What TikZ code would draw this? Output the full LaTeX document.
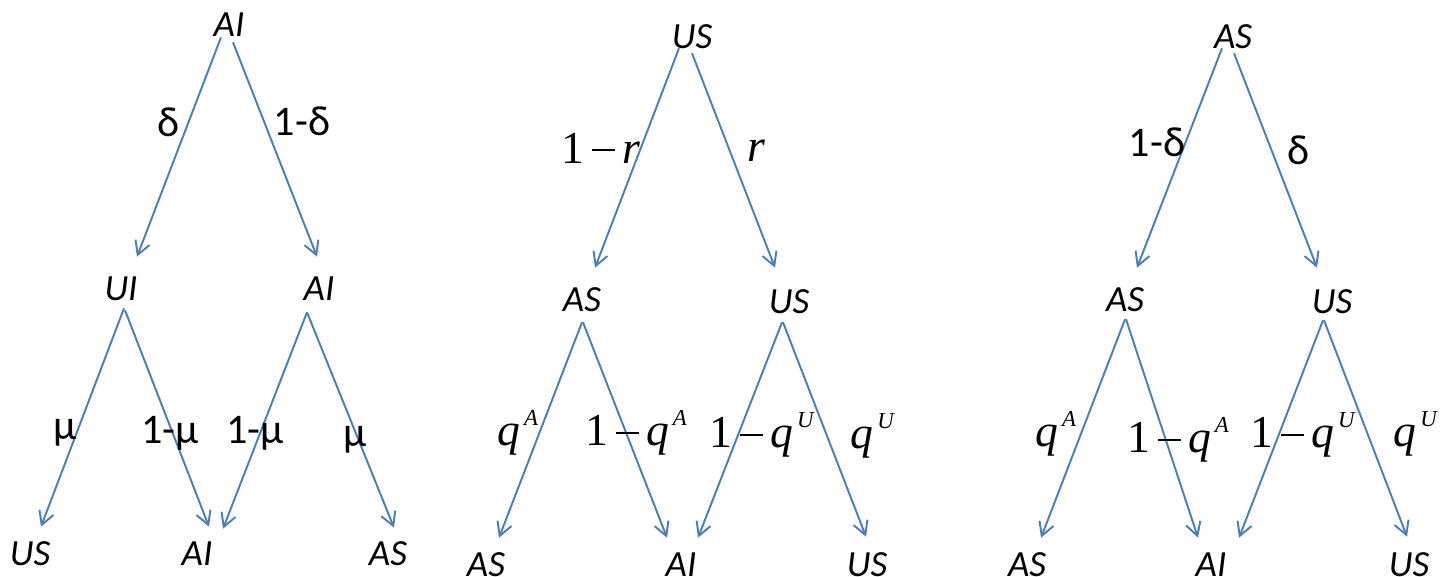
\documentclass[tikz,border=0pt]{standalone}
\usepackage{fontspec}
\setmainfont{Carlito}
\newfontfamily\timesfont{Liberation Serif}
\usetikzlibrary{arrows.meta}
\definecolor{arrowblue}{HTML}{4A7EBB}
\newcommand{\qsup}[1]{\textit{q}\hspace{2pt}\raisebox{11.5pt}{\fontsize{13}{13}\selectfont\textit{#1}}}
\newcommand{\onem}{1\hspace{4.5pt}\rule[6.6pt]{13pt}{1.4pt}\hspace{4.5pt}}

\begin{document}
\begin{tikzpicture}[x=0.02cm, y=-0.02cm,
    state/.style={font=\itshape\fontsize{21}{21}\selectfont, inner sep=0pt, text height=13.6pt, text depth=0pt},
    prob/.style={font=\fontsize{24}{24}\selectfont, inner sep=0pt},
    mprob/.style={font=\timesfont\fontsize{26}{26}\selectfont, inner sep=0pt},
    branch/.style={draw=arrowblue, line width=1.1pt, -{Straight Barb[length=7.6pt,width=8.5pt]}}]
    \useasboundingbox (0,0) rectangle (1449,577);

    % first tree: AI
    \node[state] (AIt) at (229,25) {AI};
    \node[state] (UIm) at (121,288.5) {UI};
    \node[state] (AIm) at (319,289) {AI};
    \node[state] (USb1) at (30,554) {US};
    \node[state] (AIb1) at (197,554) {AI};
    \node[state] (ASb1) at (388,554) {AS};
    \draw[branch] ([shift={(-8,0)}]AIt.south) -- ([shift={(16,-19.5)}]UIm.north);
    \draw[branch] ([shift={(4,5)}]AIt.south) -- ([shift={(-2,-20)}]AIm.north);
    \draw[branch] ([shift={(3,7.5)}]UIm.south) -- ([shift={(11,-15)}]USb1.north);
    \draw[branch] ([shift={(4,9.5)}]UIm.south) -- ([shift={(12,-15)}]AIb1.north);
    \draw[branch] ([shift={(-12,11)}]AIm.south) -- ([shift={(26,-13)}]AIb1.north);
    \draw[branch] ([shift={(-12,11)}]AIm.south) -- ([shift={(6,-14)}]ASb1.north);
    \node[prob] (d1) at (169,122) {δ};
    \node[prob] (d2) at (302,121) {1-δ};
    \node[prob] (m1) at (65,433) {μ};
    \node[prob] (m2) at (170,433) {1-μ};
    \node[prob] (m3) at (255,433) {1-μ};
    \node[prob] (m4) at (355,440) {μ};

    % second tree: US
    \node[state] (USt) at (692,37) {US};
    \node[state] (ASm2) at (582,300) {AS};
    \node[state] (USm2) at (789,302) {US};
    \node[state] (ASb2) at (486,565) {AS};
    \node[state] (AIb2) at (681,565) {AI};
    \node[state] (USb2) at (867,565) {US};
    \draw[branch] ([shift={(-13,-1)}]USt.south) -- ([shift={(13,-20)}]ASm2.north);
    \draw[branch] ([shift={(0,4)}]USt.south) -- ([shift={(-14,-22)}]USm2.north);
    \draw[branch] ([shift={(0,10)}]ASm2.south) -- ([shift={(13,-15)}]ASb2.north);
    \draw[branch] ([shift={(1,10)}]ASm2.south) -- ([shift={(-14,-15)}]AIb2.north);
    \draw[branch] ([shift={(-7,8)}]USm2.south) -- ([shift={(17,-15)}]AIb2.north);
    \draw[branch] ([shift={(-6,8)}]USm2.south) -- ([shift={(-1,-16)}]USb2.north);
    \node[mprob] (r1) at (601,148) {\onem\textit{r}};
    \node[mprob] (r2) at (756,151) {\textit{r}};
    \node[mprob] (qa1) at (518,433) {\qsup{A}};
    \node[mprob] (qa2) at (636,433) {\onem\qsup{A}};
    \node[mprob] (qu1) at (762,435) {\onem\qsup{U}};
    \node[mprob] (qu2) at (873,436) {\qsup{U}};

    % third tree: AS
    \node[state] (ASt) at (1233,37) {AS};
    \node[state] (ASm3) at (1125,300) {AS};
    \node[state] (USm3) at (1332,302) {US};
    \node[state] (ASb3) at (1027,565) {AS};
    \node[state] (AIb3) at (1211,565) {AI};
    \node[state] (USb3) at (1409,565) {US};
    \draw[branch] ([shift={(-11,-1)}]ASt.south) -- ([shift={(12,-20)}]ASm3.north);
    \draw[branch] ([shift={(1,4)}]ASt.south) -- ([shift={(-15,-22)}]USm3.north);
    \draw[branch] ([shift={(0,7)}]ASm3.south) -- ([shift={(14,-15)}]ASb3.north);
    \draw[branch] ([shift={(1,7)}]ASm3.south) -- ([shift={(-13,-15)}]AIb3.north);
    \draw[branch] ([shift={(-9,6)}]USm3.south) -- ([shift={(28,-15)}]AIb3.north);
    \draw[branch] ([shift={(-8,6)}]USm3.south) -- ([shift={(-2,-16)}]USb3.north);
    \node[prob] (d3) at (1157,142) {1-δ};
    \node[prob] (d4) at (1299,150) {δ};
    \node[mprob] (qa3) at (1056,434) {\qsup{A}};
    \node[mprob] (qa4) at (1178,440) {\onem\qsup{A}};
    \node[mprob] (qu3) at (1303,435) {\onem\qsup{U}};
    \node[mprob] (qu4) at (1416,434) {\qsup{U}};
\end{tikzpicture}
\end{document}
